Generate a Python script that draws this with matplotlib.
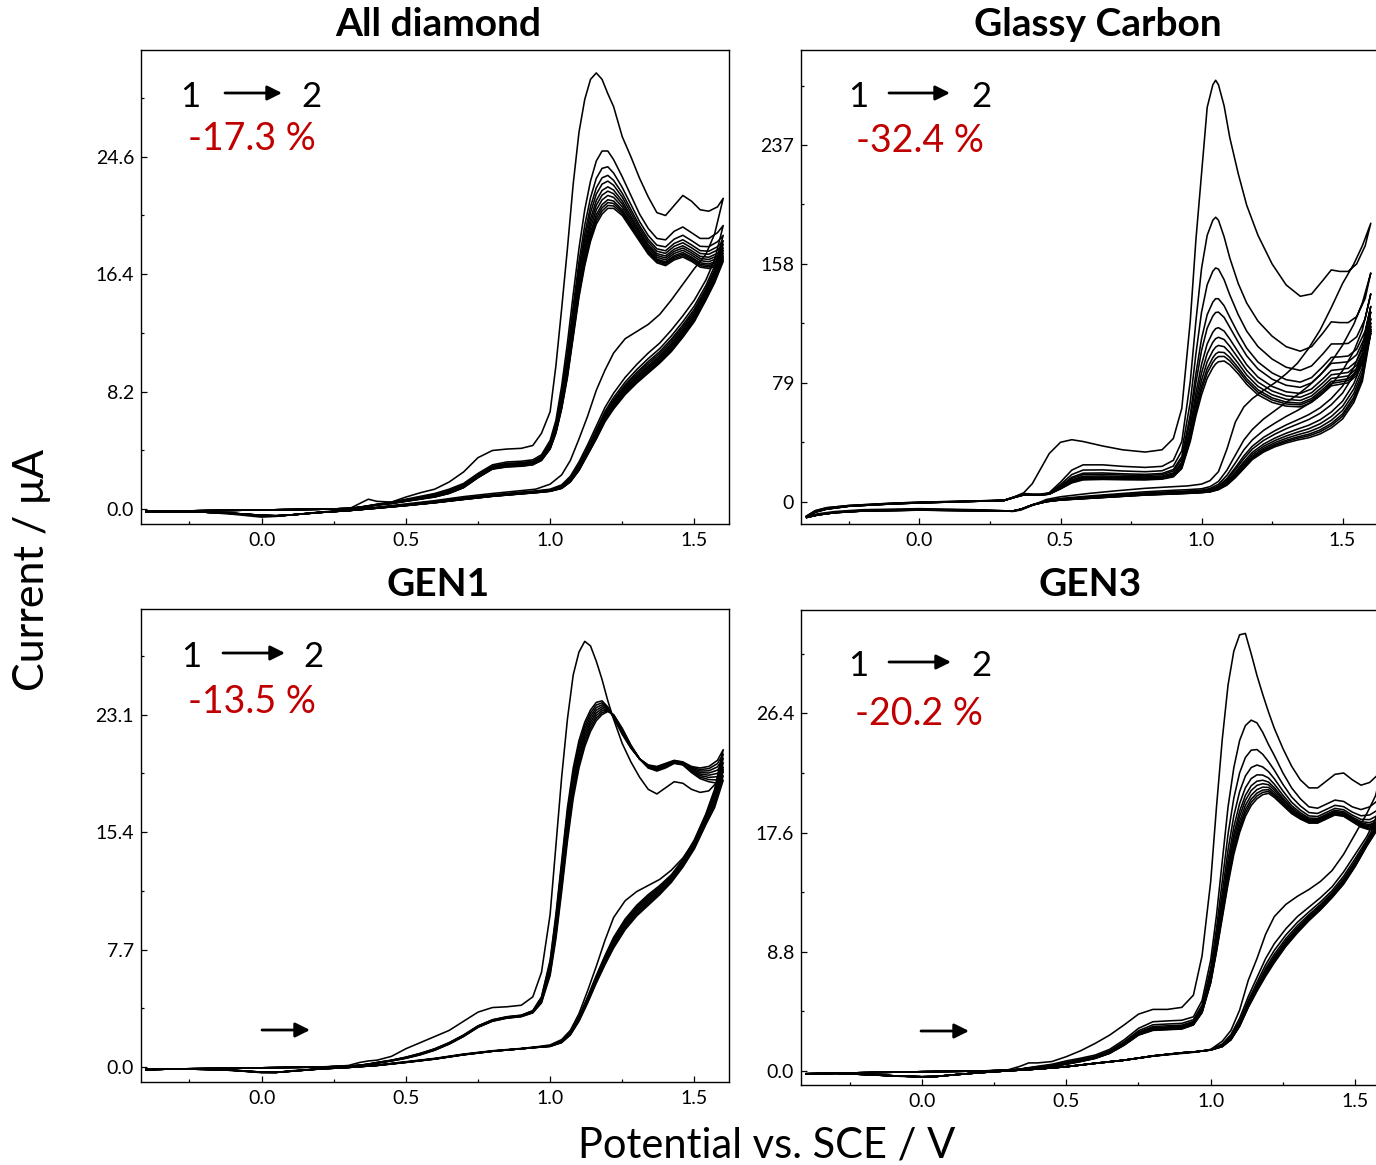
import numpy as np
import matplotlib
matplotlib.use('Agg')
from matplotlib import pyplot as plt
from matplotlib.ticker import FixedLocator

plt.rcParams['font.family'] = ['Lato', 'DejaVu Sans']

W, H = 1376, 1165

# ---------------- All diamond ----------------
ad_E_fwd = [-0.40, -0.20, 0.00, 0.20, 0.30, 0.34, 0.37, 0.40, 0.45, 0.50, 0.55, 0.60, 0.65, 0.70, 0.75,
            0.80, 0.85, 0.90, 0.94, 0.97, 1.00, 1.02, 1.04, 1.06, 1.08, 1.10, 1.12, 1.14, 1.16, 1.18,
            1.20, 1.22, 1.25, 1.28, 1.31, 1.34, 1.37, 1.40, 1.43, 1.46, 1.49, 1.52, 1.55, 1.58, 1.60]
ad_first_fwd = [-0.15, -0.1, -0.05, 0.0, 0.0, 0.4, 0.7, 0.55, 0.5, 0.85, 1.15, 1.4, 1.9, 2.6, 3.6,
                4.1, 4.2, 4.25, 4.45, 5.3, 6.8, 10.0, 14.0, 18.2, 22.7, 26.3, 28.6, 30.0, 30.45, 30.0,
                29.0, 28.1, 26.0, 24.6, 23.1, 21.8, 20.7, 20.5, 21.2, 21.9, 21.5, 20.9, 20.8, 21.1, 21.7]
ad_second_fwd = [-0.15, -0.1, -0.05, 0.0, 0.05, 0.15, 0.25, 0.35, 0.5, 0.7, 0.9, 1.1, 1.4, 1.8, 2.5,
                 3.1, 3.3, 3.35, 3.45, 3.8, 4.8, 6.2, 8.6, 11.6, 15.0, 18.2, 20.9, 22.9, 24.3, 25.0,
                 25.0, 24.4, 23.2, 21.9, 20.6, 19.6, 18.9, 18.8, 19.4, 19.7, 19.3, 18.9, 18.9, 19.3, 19.8]
ad_last_fwd = [-0.15, -0.1, -0.05, 0.0, 0.05, 0.12, 0.2, 0.3, 0.4, 0.55, 0.7, 0.85, 1.1, 1.5, 2.2,
               2.8, 2.95, 3.0, 3.1, 3.4, 4.2, 5.3, 7.0, 9.2, 12.0, 14.8, 17.0, 18.7, 19.9, 20.6,
               21.0, 21.0, 20.5, 19.6, 18.7, 17.8, 17.2, 17.0, 17.4, 17.6, 17.3, 16.9, 16.8, 17.0, 17.3]
ad_E_rev = [1.60, 1.57, 1.54, 1.50, 1.46, 1.42, 1.38, 1.34, 1.30, 1.26, 1.22, 1.19, 1.16, 1.13, 1.10,
            1.07, 1.04, 1.00, 0.95, 0.90, 0.80, 0.70, 0.60, 0.50, 0.40, 0.30, 0.20, 0.10, 0.05, 0.00,
            -0.10, -0.20, -0.30, -0.40]
ad_first_rev = [21.7, 19.2, 17.8, 16.8, 15.7, 14.6, 13.6, 12.9, 12.4, 11.9, 10.9, 9.7, 8.3, 6.5, 4.9,
                3.4, 2.4, 1.75, 1.4, 1.3, 1.1, 0.88, 0.6, 0.37, 0.15, -0.05, -0.2, -0.4, -0.5, -0.55,
                -0.35, -0.2, -0.18, -0.2]
ad_second_rev = [19.8, 17.4, 16.0, 14.6, 13.5, 12.5, 11.6, 10.9, 10.1, 9.2, 8.1, 7.1, 5.8, 4.5, 3.3,
                 2.3, 1.7, 1.4, 1.28, 1.2, 1.0, 0.8, 0.55, 0.33, 0.12, -0.08, -0.22, -0.4, -0.48, -0.45,
                 -0.3, -0.2, -0.18, -0.2]
ad_last_rev = [17.3, 15.8, 14.6, 13.1, 12.0, 11.0, 10.2, 9.5, 8.8, 8.0, 7.0, 6.1, 4.9, 3.8, 2.7,
               1.9, 1.45, 1.25, 1.15, 1.07, 0.9, 0.68, 0.45, 0.25, 0.07, -0.1, -0.23, -0.4, -0.45, -0.42,
               -0.28, -0.2, -0.18, -0.2]
ad_peaks = [25.0, 23.9, 23.3, 22.9, 22.5, 22.2, 21.9, 21.6, 21.4, 21.2, 21.0]

# ---------------- Glassy Carbon ----------------
gc_E_fwd = [-0.40, -0.37, -0.33, -0.25, -0.10, 0.00, 0.15, 0.30, 0.34, 0.37, 0.40, 0.43, 0.46, 0.50,
            0.54, 0.58, 0.65, 0.72, 0.80, 0.86, 0.90, 0.93, 0.96, 0.98, 1.00, 1.02, 1.04, 1.05, 1.06,
            1.08, 1.10, 1.13, 1.16, 1.20, 1.25, 1.30, 1.35, 1.39, 1.43, 1.46, 1.49, 1.52, 1.55, 1.58, 1.60]
gc_first_fwd = [-9.5, -6.0, -4.0, -2.5, -1.0, -0.3, 0.3, 1.0, 3.5, 6.0, 12.0, 22.0, 32.0, 39.5,
                41.2, 40.0, 37.0, 34.5, 33.0, 34.5, 42.0, 62.0, 120.0, 174.0, 218.0, 262.0, 277.0, 280.0, 277.0,
                263.0, 242.0, 218.0, 197.0, 177.0, 158.0, 144.0, 136.5, 138.0, 147.0, 154.0, 153.0, 153.0, 158.0, 170.0, 185.0]
gc_second_fwd = [-9.5, -6.0, -4.0, -2.5, -1.0, -0.3, 0.3, 1.0, 3.5, 5.5, 5.0, 5.0, 6.0, 13.0,
                 21.0, 24.5, 24.5, 23.5, 22.8, 23.5, 27.5, 40.0, 80.0, 120.0, 155.0, 177.0, 187.0, 189.0, 187.0,
                 176.0, 162.0, 145.0, 132.0, 120.0, 110.0, 103.0, 100.0, 103.0, 112.0, 119.5, 119.0, 119.0, 123.0, 135.0, 152.0]
gc_last_fwd = [-10.0, -7.0, -5.0, -3.0, -1.5, -0.8, 0.0, 0.8, 3.0, 4.5, 4.5, 4.5, 5.0, 8.5,
               12.5, 14.5, 14.8, 14.6, 14.5, 15.0, 16.5, 22.0, 40.0, 57.0, 71.0, 82.0, 89.0, 91.5, 93.0,
               93.5, 91.0, 85.0, 78.0, 71.0, 66.0, 63.5, 63.0, 66.0, 72.0, 77.0, 78.0, 79.0, 84.0, 96.0, 112.0]
gc_E_rev = [1.60, 1.57, 1.54, 1.50, 1.46, 1.42, 1.38, 1.34, 1.30, 1.26, 1.22, 1.18, 1.15, 1.12, 1.09,
            1.06, 1.03, 1.00, 0.95, 0.90, 0.80, 0.70, 0.60, 0.50, 0.45, 0.40, 0.36, 0.33, 0.30, 0.20,
            0.00, -0.20, -0.30, -0.36, -0.40]
gc_first_rev = [185.0, 170.0, 158.0, 145.0, 129.0, 114.0, 102.0, 92.0, 85.0, 79.0, 74.0, 68.5, 63.0, 53.0, 35.0,
                20.0, 14.0, 11.7, 10.5, 10.0, 8.9, 7.3, 5.5, 3.3, 1.5, -2.5, -5.5, -6.5, -6.0, -5.3,
                -4.6, -5.3, -6.5, -8.0, -9.5]
gc_second_rev = [152.0, 132.0, 118.0, 104.0, 93.0, 84.0, 77.0, 71.0, 66.0, 60.5, 55.0, 48.0, 41.0, 31.0, 21.0,
                 13.5, 10.0, 8.6, 8.0, 7.6, 6.6, 5.2, 3.8, 2.2, 0.8, -2.0, -5.0, -6.3, -6.0, -5.5,
                 -5.0, -5.7, -7.0, -8.5, -10.0]
gc_last_rev = [112.0, 80.0, 66.0, 55.0, 49.0, 45.0, 42.5, 41.0, 39.0, 36.5, 33.0, 28.0, 22.0, 16.0, 11.0,
               8.0, 6.5, 6.0, 5.5, 5.1, 4.4, 3.3, 2.2, 1.1, 0.0, -2.2, -5.0, -6.2, -6.2, -6.0,
               -5.6, -6.2, -7.3, -8.8, -10.5]
gc_peaks = [189.0, 156.0, 136.0, 127.0, 116.5, 110.0, 104.5, 100.0, 97.0, 93.5]

# ---------------- GEN1 ----------------
g1_E_fwd = ad_E_fwd
g1_first_fwd = [-0.15, -0.1, -0.05, 0.0, 0.1, 0.3, 0.4, 0.45, 0.7, 1.2, 1.6, 2.0, 2.4, 3.0, 3.6,
                3.9, 3.95, 4.05, 4.6, 6.2, 10.0, 14.5, 19.0, 22.8, 25.7, 27.2, 27.9, 27.6, 26.6, 25.4,
                24.0, 22.8, 21.2, 20.0, 19.0, 18.2, 17.9, 18.3, 18.7, 18.6, 18.2, 18.0, 18.1, 18.7, 19.5]
g1_second_fwd = [-0.15, -0.1, -0.05, 0.0, 0.05, 0.12, 0.2, 0.3, 0.45, 0.65, 0.9, 1.2, 1.6, 2.1, 2.7,
                 3.1, 3.3, 3.4, 3.7, 4.6, 7.0, 10.0, 13.5, 17.0, 19.6, 21.4, 22.6, 23.4, 23.9, 24.0,
                 23.6, 22.9, 21.8, 20.9, 20.2, 19.8, 19.7, 19.9, 20.1, 20.0, 19.7, 19.6, 19.7, 20.1, 20.8]
g1_last_fwd = [-0.15, -0.1, -0.05, 0.0, 0.05, 0.1, 0.15, 0.25, 0.4, 0.57, 0.8, 1.1, 1.5, 2.0, 2.6,
               3.0, 3.2, 3.3, 3.55, 4.2, 6.0, 8.4, 11.5, 14.8, 17.6, 19.6, 21.0, 22.0, 22.7, 23.1,
               23.3, 23.1, 22.2, 21.1, 20.2, 19.6, 19.4, 19.6, 19.9, 19.8, 19.3, 18.9, 18.7, 18.6, 18.8]
g1_E_rev = ad_E_rev
g1_first_rev = [19.5, 17.5, 16.3, 14.8, 13.7, 12.9, 12.3, 11.9, 11.5, 10.9, 9.8, 8.3, 6.6, 5.0, 3.5,
                2.4, 1.8, 1.45, 1.32, 1.22, 1.07, 0.85, 0.57, 0.35, 0.13, 0.0, -0.1, -0.25, -0.35, -0.37,
                -0.22, -0.15, -0.12, -0.18]
g1_second_rev = [20.8, 18.2, 16.6, 14.9, 13.6, 12.6, 11.9, 11.3, 10.6, 9.7, 8.5, 7.3, 6.0, 4.6, 3.3,
                 2.3, 1.7, 1.4, 1.3, 1.2, 1.05, 0.83, 0.55, 0.33, 0.12, -0.02, -0.12, -0.27, -0.35, -0.35,
                 -0.22, -0.15, -0.12, -0.18]
g1_last_rev = [18.8, 17.0, 15.9, 14.3, 13.1, 12.1, 11.3, 10.6, 9.9, 9.0, 7.8, 6.7, 5.5, 4.2, 3.0,
               2.1, 1.6, 1.35, 1.28, 1.2, 1.03, 0.8, 0.52, 0.3, 0.1, -0.03, -0.13, -0.28, -0.35, -0.33,
               -0.2, -0.15, -0.12, -0.18]
g1_peaks = [24.0, 23.9, 23.8, 23.7, 23.6, 23.5, 23.4, 23.3]

# ---------------- GEN3 ----------------
g3_E_fwd = ad_E_fwd
g3_first_fwd = [-0.2, -0.12, -0.05, 0.0, 0.1, 0.35, 0.6, 0.6, 0.7, 1.06, 1.5, 2.04, 2.65, 3.4, 4.2,
                4.55, 4.55, 4.7, 5.6, 8.5, 14.0, 19.5, 24.5, 28.5, 31.0, 32.2, 32.3, 30.8, 29.2, 27.8,
                26.5, 25.3, 23.8, 22.5, 21.5, 20.9, 20.9, 21.4, 21.9, 22.0, 21.5, 21.1, 21.3, 21.9, 22.8]
g3_second_fwd = [-0.2, -0.12, -0.05, 0.0, 0.05, 0.15, 0.25, 0.35, 0.5, 0.75, 0.95, 1.18, 1.6, 2.3, 3.15,
                 3.64, 3.7, 3.75, 4.0, 5.2, 8.2, 11.5, 15.5, 19.5, 22.4, 24.4, 25.5, 25.9, 25.7, 25.0,
                 24.1, 23.3, 22.0, 20.9, 20.1, 19.5, 19.4, 19.7, 20.0, 19.9, 19.5, 19.3, 19.5, 20.0, 20.5]
g3_last_fwd = [-0.2, -0.12, -0.05, 0.0, 0.05, 0.12, 0.2, 0.25, 0.35, 0.5, 0.7, 0.93, 1.3, 1.9, 2.65,
               3.0, 3.05, 3.1, 3.4, 4.3, 6.5, 8.8, 11.3, 13.8, 16.0, 17.6, 18.8, 19.6, 20.1, 20.4,
               20.5, 20.2, 19.6, 19.0, 18.6, 18.3, 18.3, 18.6, 18.9, 18.8, 18.4, 18.0, 17.8, 18.0, 18.5]
g3_E_rev = ad_E_rev
g3_first_rev = [22.8, 20.3, 19.0, 17.5, 16.0, 14.8, 14.0, 13.4, 12.9, 12.3, 11.4, 10.1, 8.3, 6.7, 4.5,
                3.0, 2.2, 1.6, 1.4, 1.3, 1.1, 0.8, 0.57, 0.32, 0.15, 0.02, -0.12, -0.3, -0.4, -0.45,
                -0.37, -0.25, -0.17, -0.22]
g3_second_rev = [20.5, 18.6, 17.3, 16.0, 14.7, 13.6, 12.8, 12.1, 11.4, 10.5, 9.4, 8.3, 6.9, 5.5, 3.9,
                 2.7, 2.0, 1.58, 1.42, 1.33, 1.1, 0.8, 0.57, 0.32, 0.15, 0.02, -0.12, -0.3, -0.4, -0.43,
                 -0.35, -0.25, -0.17, -0.22]
g3_last_rev = [18.5, 17.6, 16.6, 15.1, 13.8, 12.8, 11.9, 11.1, 10.2, 9.2, 8.0, 7.0, 5.9, 4.7, 3.3,
               2.3, 1.8, 1.55, 1.43, 1.35, 1.12, 0.8, 0.57, 0.32, 0.15, 0.02, -0.12, -0.3, -0.4, -0.42,
               -0.35, -0.25, -0.17, -0.22]
g3_peaks = [25.9, 24.0, 22.9, 22.2, 21.75, 21.45, 21.15, 20.9, 20.7, 20.5]

titles = ['All diamond', 'Glassy Carbon', 'GEN1', 'GEN3']
changes = ['-17.3 %', '-32.4 %', '-13.5 %', '-20.2 %']
yticks = [[0.0, 8.2, 16.4, 24.6], [0, 79, 158, 237], [0.0, 7.7, 15.4, 23.1], [0.0, 8.8, 17.6, 26.4]]
ytick_labels = [['0.0', '8.2', '16.4', '24.6'], ['0', '79', '158', '237'],
                ['0.0', '7.7', '15.4', '23.1'], ['0.0', '8.8', '17.6', '26.4']]
xticks = [0.0, 0.5, 1.0, 1.5]

panels = [
    (ad_E_fwd, ad_first_fwd, ad_second_fwd, ad_last_fwd, ad_E_rev, ad_first_rev, ad_second_rev, ad_last_rev, ad_peaks),
    (gc_E_fwd, gc_first_fwd, gc_second_fwd, gc_last_fwd, gc_E_rev, gc_first_rev, gc_second_rev, gc_last_rev, gc_peaks),
    (g1_E_fwd, g1_first_fwd, g1_second_fwd, g1_last_fwd, g1_E_rev, g1_first_rev, g1_second_rev, g1_last_rev, g1_peaks),
    (g3_E_fwd, g3_first_fwd, g3_second_fwd, g3_last_fwd, g3_E_rev, g3_first_rev, g3_second_rev, g3_last_rev, g3_peaks),
]

# layout in pixels: left, top, right, bottom
boxes = [(141, 50, 729, 524), (801, 50, 1377, 524), (141, 609, 729, 1082), (801, 610, 1389, 1085)]
xlims = [(-0.418, 1.62), (-0.42, 1.622), (-0.418, 1.62), (-0.418, 1.617)]
ylims = [(-1.03, 32.05), (-14.8, 300.1), (-0.98, 30.02), (-1.03, 34.03)]
title_pos = [(438, 24), (1098, 24), (438, 584), (1090, 584)]
one_pos = [(190, 107), (858, 107), (191, 667), (858, 676)]
two_pos = [(311, 107), (981, 107), (313, 667), (981, 676)]
arrow_pos = [(225, 282, 93), (889, 950, 93), (223, 285, 653), (889, 951, 662)]
change_pos = [(252, 150), (920, 152), (252, 713), (919, 725)]
scan_arrows = [None, None, (262, 310, 1030), (921, 969, 1031)]


def fx(px):
    return px / W


def fy(py):
    return 1 - py / H


def draw_arrow(x0, x1, y):
    fig.add_artist(plt.Annotation('', xy=(fx(x1), fy(y)), xytext=(fx(x0), fy(y)),
                                  xycoords='figure fraction', textcoords='figure fraction',
                                  arrowprops=dict(arrowstyle='-|>', lw=2.0, color='black',
                                                  mutation_scale=22, shrinkA=0, shrinkB=0)))


fig = plt.figure(figsize=(W / 100, H / 100), dpi=100)

for i, p in enumerate(panels):
    E_f, c1_f, c2_f, cl_f, E_r, c1_r, c2_r, cl_r, peaks = p
    l, t, r, b = boxes[i]
    ax = fig.add_axes([fx(l), fy(b), (r - l) / W, (b - t) / H])

    # first cycle
    ax.plot(list(E_f) + list(E_r), list(c1_f) + list(c1_r), color='black', lw=1.15)
    # following cycles, placed between 2nd and last scan by their read peak currents
    c2_f, cl_f, c2_r, cl_r = map(np.array, (c2_f, cl_f, c2_r, cl_r))
    for pk in peaks:
        w = (pk - peaks[-1]) / (peaks[0] - peaks[-1])
        fwd = w * c2_f + (1 - w) * cl_f
        rev = w * c2_r + (1 - w) * cl_r
        ax.plot(list(E_f) + list(E_r), list(fwd) + list(rev), color='black', lw=1.15)

    ax.set_xlim(*xlims[i])
    ax.set_ylim(*ylims[i])
    ax.set_xticks(xticks)
    ax.set_xticklabels(['0.0', '0.5', '1.0', '1.5'])
    ax.xaxis.set_minor_locator(FixedLocator([-0.25, 0.25, 0.75, 1.25]))
    yt = yticks[i]
    ax.set_yticks(yt)
    ax.set_yticklabels(ytick_labels[i])
    step = yt[1] - yt[0]
    ax.yaxis.set_minor_locator(FixedLocator([v + step / 2 for v in yt]))
    ax.tick_params(which='both', direction='in', labelsize=14, top=False, right=False, width=0.9)
    ax.tick_params(which='major', length=4.5)
    ax.tick_params(which='minor', length=2.5)
    ax.tick_params(axis='x', pad=6)
    ax.tick_params(axis='y', pad=5)
    for s in ax.spines.values():
        s.set_linewidth(1.0)

    tx, ty = title_pos[i]
    fig.text(fx(tx), fy(ty), titles[i], ha='center', va='center', fontsize=28, fontweight='bold')
    ox, oy = one_pos[i]
    fig.text(fx(ox), fy(oy), '1', ha='center', va='baseline', fontsize=25)
    ox, oy = two_pos[i]
    fig.text(fx(ox), fy(oy), '2', ha='center', va='baseline', fontsize=25)
    a0, a1, ay = arrow_pos[i]
    draw_arrow(a0, a1, ay)
    cx, cy = change_pos[i]
    fig.text(fx(cx), fy(cy), changes[i], ha='center', va='baseline', fontsize=27, color='#C00000')
    if scan_arrows[i] is not None:
        draw_arrow(*scan_arrows[i])

fig.text(fx(32), fy(570), 'Current / μA', rotation=90, ha='center', va='center', fontsize=31)
fig.text(fx(767), fy(1145), 'Potential vs. SCE / V', ha='center', va='center', fontsize=30)

fig.savefig('out.png', dpi=100)
